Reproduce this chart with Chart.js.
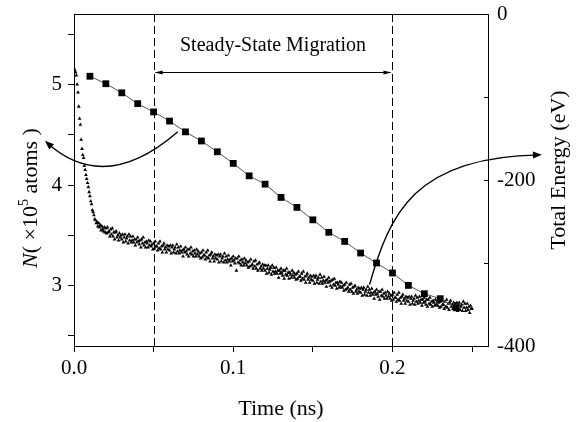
<!DOCTYPE html>
<html>
<head>
<meta charset="utf-8">
<script src="https://cdn.jsdelivr.net/npm/chart.js@4.4.0/dist/chart.umd.min.js"></script>
<style>
  body { margin: 0; background: #fff; }
  #wrap { width: 580px; height: 422px; }
</style>
</head>
<body>
<div id="wrap"><canvas id="migChart" width="580" height="422"></canvas></div>
<script>
// number of atoms N (x10^5), sampled every 0.0005 ns from t = 0
const simStart = 0;
const simStep = 0.0005;
const atomCounts = [
  5.16, 5.14, 5.12, 5.09, 5.00, 4.92, 4.78, 4.66, 4.60, 4.45, 4.36, 4.30, 4.27, 4.19, 4.15, 4.10, 4.06, 4.02, 3.98, 3.93,
  3.89, 3.84, 3.81, 3.75, 3.73, 3.70, 3.66, 3.65, 3.62, 3.63, 3.59, 3.62, 3.58, 3.60, 3.55, 3.59, 3.56, 3.54, 3.58, 3.53,
  3.57, 3.52, 3.58, 3.53, 3.54, 3.49, 3.56, 3.51, 3.57, 3.49, 3.53, 3.46, 3.53, 3.54, 3.48, 3.50, 3.45, 3.52, 3.48, 3.50,
  3.46, 3.51, 3.43, 3.48, 3.51, 3.44, 3.47, 3.49, 3.42, 3.51, 3.45, 3.49, 3.43, 3.45, 3.49, 3.43, 3.46, 3.40, 3.46, 3.43,
  3.48, 3.44, 3.41, 3.45, 3.38, 3.46, 3.42, 3.48, 3.40, 3.43, 3.38, 3.44, 3.42, 3.38, 3.45, 3.40, 3.44, 3.39, 3.41, 3.36,
  3.42, 3.37, 3.44, 3.39, 3.39, 3.35, 3.42, 3.37, 3.44, 3.36, 3.39, 3.33, 3.40, 3.42, 3.36, 3.38, 3.33, 3.40, 3.36, 3.39,
  3.35, 3.40, 3.32, 3.38, 3.40, 3.33, 3.36, 3.38, 3.32, 3.41, 3.34, 3.38, 3.32, 3.35, 3.39, 3.33, 3.35, 3.29, 3.36, 3.33,
  3.38, 3.34, 3.31, 3.36, 3.29, 3.36, 3.32, 3.38, 3.31, 3.34, 3.29, 3.35, 3.32, 3.29, 3.36, 3.31, 3.34, 3.29, 3.32, 3.27,
  3.33, 3.28, 3.35, 3.30, 3.30, 3.26, 3.33, 3.28, 3.35, 3.27, 3.30, 3.24, 3.31, 3.33, 3.27, 3.29, 3.24, 3.31, 3.27, 3.30,
  3.26, 3.31, 3.23, 3.29, 3.31, 3.24, 3.27, 3.29, 3.23, 3.32, 3.25, 3.29, 3.23, 3.26, 3.30, 3.24, 3.26, 3.20, 3.27, 3.24,
  3.29, 3.25, 3.22, 3.27, 3.15, 3.27, 3.23, 3.29, 3.22, 3.25, 3.20, 3.26, 3.23, 3.20, 3.27, 3.22, 3.25, 3.20, 3.23, 3.18,
  3.24, 3.19, 3.26, 3.20, 3.21, 3.17, 3.24, 3.19, 3.25, 3.17, 3.21, 3.15, 3.22, 3.23, 3.17, 3.19, 3.15, 3.21, 3.17, 3.20,
  3.15, 3.20, 3.12, 3.17, 3.20, 3.13, 3.16, 3.18, 3.11, 3.20, 3.14, 3.18, 3.12, 3.14, 3.18, 3.12, 3.15, 3.08, 3.15, 3.12,
  3.17, 3.13, 3.10, 3.15, 3.07, 3.15, 3.11, 3.17, 3.10, 3.13, 3.07, 3.13, 3.11, 3.08, 3.15, 3.10, 3.13, 3.08, 3.11, 3.06,
  3.12, 3.07, 3.14, 3.09, 3.09, 3.05, 3.12, 3.07, 3.14, 3.06, 3.09, 3.03, 3.10, 3.12, 3.06, 3.08, 3.03, 3.10, 3.06, 3.09,
  3.05, 3.10, 3.02, 3.08, 3.10, 3.03, 3.06, 3.08, 3.02, 3.11, 3.04, 3.08, 3.02, 3.05, 3.09, 3.03, 3.05, 2.99, 3.06, 3.03,
  3.08, 3.04, 3.00, 3.05, 2.98, 3.06, 3.01, 3.07, 3.00, 3.03, 2.97, 3.03, 3.01, 2.98, 3.04, 2.99, 3.03, 2.98, 3.00, 2.95,
  3.01, 2.96, 3.03, 2.97, 2.98, 2.94, 3.01, 2.96, 3.02, 2.94, 2.98, 2.92, 2.99, 3.00, 2.94, 2.96, 2.92, 2.98, 2.94, 2.97,
  2.93, 2.98, 2.90, 2.96, 2.98, 2.91, 2.94, 2.96, 2.90, 2.99, 2.93, 2.96, 2.90, 2.93, 2.97, 2.91, 2.93, 2.87, 2.94, 2.91,
  2.96, 2.92, 2.89, 2.94, 2.86, 2.94, 2.90, 2.96, 2.89, 2.92, 2.87, 2.93, 2.90, 2.87, 2.94, 2.89, 2.92, 2.87, 2.90, 2.85,
  2.91, 2.86, 2.93, 2.88, 2.88, 2.84, 2.91, 2.86, 2.93, 2.85, 2.88, 2.82, 2.89, 2.91, 2.85, 2.87, 2.82, 2.89, 2.85, 2.88,
  2.84, 2.89, 2.81, 2.87, 2.89, 2.82, 2.85, 2.87, 2.81, 2.90, 2.84, 2.88, 2.82, 2.85, 2.89, 2.83, 2.86, 2.80, 2.86, 2.83,
  2.88, 2.84, 2.81, 2.86, 2.79, 2.86, 2.82, 2.88, 2.81, 2.84, 2.79, 2.85, 2.83, 2.80, 2.86, 2.81, 2.84, 2.80, 2.83, 2.78,
  2.84, 2.79, 2.86, 2.81, 2.81, 2.77, 2.84, 2.79, 2.86, 2.78, 2.82, 2.76, 2.83, 2.85, 2.79, 2.81, 2.77, 2.83, 2.79, 2.82,
  2.78, 2.83, 2.75, 2.81, 2.83, 2.76, 2.79, 2.81, 2.75, 2.84, 2.78, 2.82, 2.75, 2.78, 2.82, 2.76, 2.79, 2.73, 2.80, 2.77,
  2.77
];

// total energy (eV)
const energyTimes = [0.01, 0.02, 0.03, 0.04, 0.05, 0.06, 0.07, 0.08, 0.09, 0.10, 0.11, 0.12,
                     0.13, 0.14, 0.15, 0.16, 0.17, 0.18, 0.19, 0.20, 0.21, 0.22, 0.23, 0.24];
const energyValues = [-75, -84, -95, -108, -118, -129, -142, -153, -166, -180, -195, -205,
                      -221, -233, -248, -263, -274, -288, -300, -312, -327, -337, -343, -354];

const timeLabels = [0, 0.1, 0.2];
const atomLabels = [3, 4, 5];
const energyLabels = [-400, -200, 0];
const energyMinor = [-100, -200, -300];
const steadyBounds = [0.05, 0.2];

const serif = "'Liberation Serif', 'Times New Roman', serif";

const atomPoints = atomCounts.map((n, i) => ({ x: simStart + i * simStep, y: n }));
const energyPoints = energyTimes.map((t, i) => ({ x: t, y: energyValues[i] }));

const isIn = (list, v) => list.some(l => Math.abs(l - v) < 1e-6);

function arrowHead(ctx, x, y, ang, len, half) {
  ctx.beginPath();
  ctx.moveTo(x, y);
  ctx.lineTo(x - len * Math.cos(ang) + half * Math.sin(ang), y - len * Math.sin(ang) - half * Math.cos(ang));
  ctx.lineTo(x - len * Math.cos(ang) - half * Math.sin(ang), y - len * Math.sin(ang) + half * Math.cos(ang));
  ctx.closePath();
  ctx.fill();
}

const decor = {
  id: 'decor',
  beforeDatasetsDraw(chart) {
    const { ctx, chartArea: a, scales } = chart;
    ctx.save();
    ctx.strokeStyle = '#000';
    ctx.lineWidth = 1;
    ctx.setLineDash([8, 4]);
    steadyBounds.forEach(t => {
      const px = Math.round(scales.x.getPixelForValue(t)) + 0.5;
      ctx.beginPath();
      ctx.moveTo(px, a.top);
      ctx.lineTo(px, a.bottom);
      ctx.stroke();
    });
    ctx.restore();
  },
  afterDatasetsDraw(chart) {
    const { ctx, chartArea: a, scales } = chart;
    const sx = scales.x, sy = scales.y, se = scales.y1;
    const P = (t, n) => [sx.getPixelForValue(t), sy.getPixelForValue(n)];
    ctx.save();
    ctx.strokeStyle = '#000';
    ctx.fillStyle = '#000';
    ctx.lineWidth = 1;

    // inward ticks on the energy axis
    ctx.beginPath();
    energyMinor.forEach(v => {
      const py = Math.round(se.getPixelForValue(v)) + 0.5;
      ctx.moveTo(a.right - 4, py);
      ctx.lineTo(a.right, py);
    });
    ctx.stroke();

    // steady-state double arrow and label
    const x0 = sx.getPixelForValue(steadyBounds[0]);
    const x1 = sx.getPixelForValue(steadyBounds[1]);
    const ya = Math.round(sy.getPixelForValue(5.12)) + 0.5;
    ctx.beginPath();
    ctx.moveTo(x0 + 2, ya);
    ctx.lineTo(x1 - 2, ya);
    ctx.stroke();
    arrowHead(ctx, x0 + 1, ya, Math.PI, 8, 2);
    arrowHead(ctx, x1 - 1, ya, 0, 8, 2);
    ctx.font = '20px ' + serif;
    ctx.textAlign = 'center';
    ctx.textBaseline = 'middle';
    ctx.fillText('Steady-State Migration', (x0 + x1) / 2, sy.getPixelForValue(5.38));

    // curved arrow to the left axis
    ctx.lineWidth = 1.4;
    const l0 = P(0.0652, 4.53), l1 = P(0.0194, 3.90), l2 = P(-0.0170, 4.42);
    ctx.beginPath();
    ctx.moveTo(l0[0], l0[1]);
    ctx.quadraticCurveTo(l1[0], l1[1], l2[0], l2[1]);
    ctx.stroke();
    arrowHead(ctx, l2[0] - 2, l2[1] - 2, Math.atan2(l2[1] - l1[1], l2[0] - l1[0]), 9, 3.5);

    // curved arrow to the right axis
    const r0 = P(0.1856, 3.01), r1 = P(0.1981, 3.71), r2 = P(0.2138, 4.28), r3 = P(0.2920, 4.30);
    ctx.beginPath();
    ctx.moveTo(r0[0], r0[1]);
    ctx.bezierCurveTo(r1[0], r1[1], r2[0], r2[1], r3[0], r3[1]);
    ctx.stroke();
    arrowHead(ctx, r3[0] + 3, r3[1], Math.atan2(r3[1] - r2[1], r3[0] - r2[0]), 9, 3.5);

    // axis titles
    ctx.fillStyle = '#000';
    ctx.textAlign = 'center';
    ctx.textBaseline = 'alphabetic';
    ctx.font = '22px ' + serif;
    ctx.fillText('Time (ns)', (a.left + a.right) / 2, 415);

    ctx.save();
    ctx.translate(565, (a.top + a.bottom) / 2 - 10);
    ctx.rotate(-Math.PI / 2);
    ctx.fillText('Total Energy (eV)', 0, 0);
    ctx.restore();

    // left title with italic N and superscript 5
    const parts = [
      { s: 'N', f: 'italic 22px ' + serif, dy: 0 },
      { s: '( \u00d710', f: '22px ' + serif, dy: 0 },
      { s: '5', f: '14px ' + serif, dy: -9 },
      { s: ' atoms )', f: '22px ' + serif, dy: 0 }
    ];
    let total = 0;
    parts.forEach(p => { ctx.font = p.f; p.w = ctx.measureText(p.s).width; total += p.w; });
    ctx.save();
    ctx.translate(37, 198);
    ctx.rotate(-Math.PI / 2);
    ctx.textAlign = 'left';
    let cx = -total / 2;
    parts.forEach(p => { ctx.font = p.f; ctx.fillText(p.s, cx, p.dy); cx += p.w; });
    ctx.restore();

    ctx.restore();
  },
  afterDraw(chart) {
    // closing top edge of the frame
    const { ctx, chartArea: a } = chart;
    ctx.save();
    ctx.fillStyle = '#000';
    ctx.fillRect(Math.round(a.left), Math.round(a.top), Math.round(a.right - a.left) + 1, 1);
    ctx.restore();
  }
};

const tickFont = { family: serif, size: 21 };

new Chart(document.getElementById('migChart'), {
  type: 'scatter',
  data: {
    datasets: [{
      label: 'Total Energy',
      data: energyPoints,
      yAxisID: 'y1',
      showLine: true,
      borderColor: '#555',
      borderWidth: 1,
      pointStyle: 'rect',
      pointRadius: 4.8,
      pointBackgroundColor: '#000',
      pointBorderWidth: 0
    }, {
      label: 'N',
      data: atomPoints,
      yAxisID: 'y',
      showLine: false,
      pointStyle: 'triangle',
      pointRadius: 2.2,
      pointBackgroundColor: '#000',
      pointBorderWidth: 0
    }]
  },
  options: {
    responsive: false,
    animation: false,
    devicePixelRatio: 1,
    layout: { padding: { top: 14, left: 0, right: 0, bottom: 0 } },
    plugins: { legend: { display: false }, tooltip: { enabled: false } },
    scales: {
      x: {
        type: 'linear',
        min: 0,
        max: 0.26,
        afterFit: s => { s.height = 76; s.paddingLeft = 0; s.paddingRight = 0; },
        border: { display: true, color: '#000', width: 1 },
        grid: { drawOnChartArea: false, tickLength: 6, tickColor: '#000' },
        ticks: {
          stepSize: 0.05,
          includeBounds: false,
          autoSkip: false,
          maxRotation: 0,
          padding: 4,
          color: '#000',
          font: tickFont,
          callback: v => isIn(timeLabels, v) ? v.toFixed(1) : ''
        }
      },
      y: {
        position: 'left',
        min: 2.4,
        max: 5.7,
        afterFit: s => { s.width = 74; s.paddingTop = 0; s.paddingBottom = 0; },
        border: { display: true, color: '#000', width: 1 },
        grid: { drawOnChartArea: false, tickLength: 6, tickColor: '#000' },
        ticks: {
          stepSize: 0.5,
          includeBounds: false,
          autoSkip: false,
          padding: 6,
          color: '#000',
          font: tickFont,
          callback: v => isIn(atomLabels, v) ? String(Math.round(v)) : ''
        }
      },
      y1: {
        position: 'right',
        min: -400,
        max: 0,
        afterFit: s => { s.width = 92; s.paddingTop = 0; s.paddingBottom = 0; },
        border: { display: true, color: '#000', width: 1 },
        grid: { display: false, drawTicks: false },
        ticks: {
          stepSize: 100,
          autoSkip: false,
          padding: 9,
          color: '#000',
          font: tickFont,
          callback: v => isIn(energyLabels, v) ? String(v) : ''
        }
      }
    }
  },
  plugins: [decor]
});
</script>
</body>
</html>
